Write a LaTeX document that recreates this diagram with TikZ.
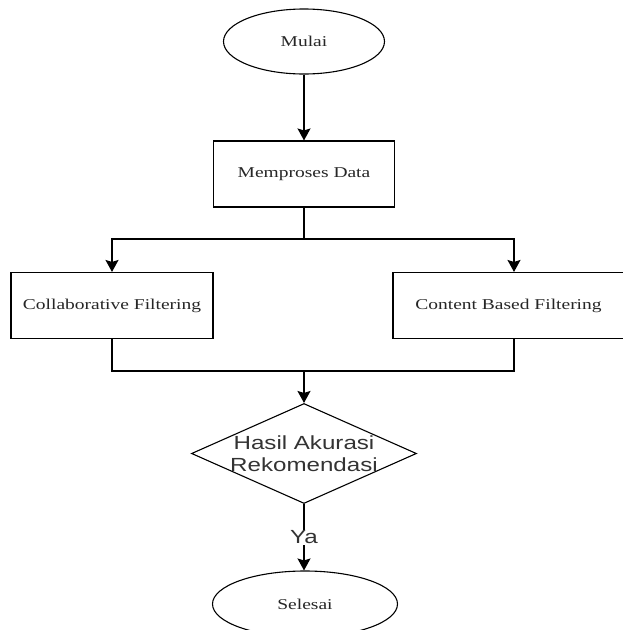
\documentclass[tikz,border=0pt]{standalone}
\usepackage{fontspec}
\newfontfamily\labelserif[FakeStretch=1.3]{Liberation Serif}
\newfontfamily\labelsans[FakeStretch=1.27]{Liberation Sans}
\usetikzlibrary{shapes.geometric,arrows.meta}
\begin{document}
\begin{tikzpicture}[x=1pt,y=-1pt,
  base/.style={draw, line width=1.1pt, inner sep=0pt, text=black!85},
  terminal/.style={base, ellipse, font=\labelserif\fontsize{15}{18}\selectfont},
  process/.style={base, rectangle, font=\labelserif\fontsize{15}{18}\selectfont},
  decision/.style={base, diamond, minimum width=225pt, minimum height=100pt},
  sanstext/.style={font=\labelsans\fontsize{19}{22}\selectfont, text=black!80, align=center},
  link/.style={line width=1.1pt},
  flow/.style={link, -{Stealth[length=12pt,width=13pt,inset=2pt]}}]
\useasboundingbox (0,0) rectangle (622,630);

% nodes
\node[terminal, minimum width=161pt, minimum height=65pt] (start) at (304,41.5) {Mulai};
\node[process, minimum width=181pt, minimum height=66pt] (prep) at (304,174) {Memproses Data};
\node[process, minimum width=202pt, minimum height=66pt] (cf) at (112,305.5) {Collaborative Filtering};
\node[process, minimum width=231pt, minimum height=66pt] (cbf) at (508.5,305.5) {Content Based Filtering};
\node[decision] (dec) at (304,453.5) {};
\node[sanstext] (dectext) at (dec.center) {Hasil Akurasi\\Rekomendasi};
\node[terminal, minimum width=185pt, minimum height=66pt] (stop) at (305,604) {Selesai};

% junction points
\coordinate (split) at (304,239);
\coordinate (merge) at (304,371);

% connectors
\draw[flow] (start) -- (prep);
\draw[link] (prep) -- (split);
\draw[flow] (split) -| (cf.north);
\draw[flow] (split) -| ([xshift=5.5pt]cbf.north);
\draw[link] (cf.south) |- (merge);
\draw[link] ([xshift=5.5pt]cbf.south) |- (merge);
\draw[flow] (merge) -- (dec.north);
\draw[flow] (dec.south) -- node[sanstext, fill=white, inner sep=1pt] (ya) {Ya} (dec.south |- stop.north);
\end{tikzpicture}
\end{document}
